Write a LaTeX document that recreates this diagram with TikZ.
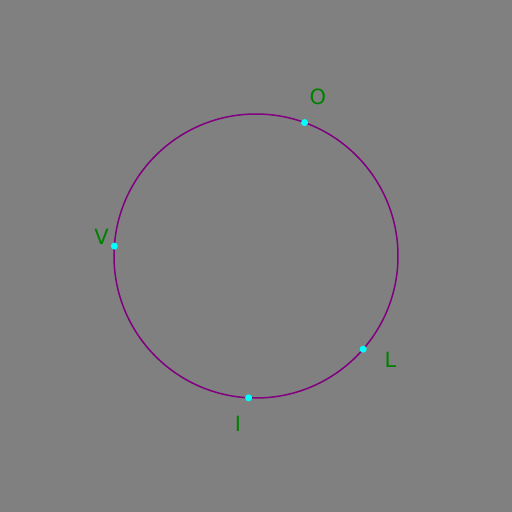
\documentclass[tikz,border=0pt]{standalone}
\usepackage{fontspec}
\setmainfont{DejaVu Sans}
\usepackage{xcolor}
\usetikzlibrary{positioning}
\definecolor{bgray}{RGB}{128,128,128}
\definecolor{ring}{RGB}{128,0,128}
\definecolor{dotc}{RGB}{0,255,255}
\definecolor{lblc}{RGB}{0,128,0}

\begin{document}
\begin{tikzpicture}[x=1pt, y=1pt,
  dot/.style={circle, fill=dotc, inner sep=0pt, minimum size=7pt},
  lbl/.style={font=\fontsize{21}{25}\selectfont, text=lblc, inner sep=0pt}
]
  \fill[bgray] (-256,-256) rectangle (256,256);
  \useasboundingbox (-256,-256) rectangle (256,256);
  \draw[ring, line width=1.5pt] (0,0) circle (142);
  \node[dot] (pO) at (70:142) {};
  \node[dot] (pV) at (176:142) {};
  \node[dot] (pL) at (-41:142) {};
  \node[dot] (pI) at (-93:142) {};
  \node[lbl] (lO) at (62,159.3) {O};
  \node[lbl] (lV) at (-154.5,19.3) {V};
  \node[lbl] (lL) at (134.5,-104) {L};
  \node[lbl] (lI) at (-18,-168) {I};
\end{tikzpicture}
\end{document}
